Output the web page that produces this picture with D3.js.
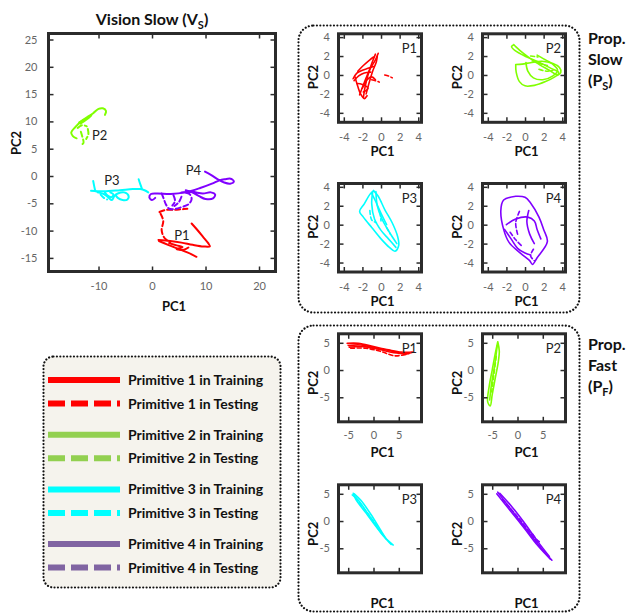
<!DOCTYPE html>
<html>
<head>
<meta charset="utf-8">
<script src="https://cdn.jsdelivr.net/npm/d3@7/dist/d3.min.js"></script>
<style>
html,body{margin:0;padding:0;background:#fff;}
svg{display:block;font-family:Lato,"Open Sans",sans-serif;}
</style>
</head>
<body>
<svg id="fig" width="628" height="613"></svg>
<script>
// ---------------- tick values ----------------
const mainXTicks = [-10, 0, 10, 20];
const mainYTicks = [-15, -10, -5, 0, 5, 10, 15, 20, 25];
const slowTicks = [-4, -2, 0, 2, 4];
const fastTicks = [-5, 0, 5];

// ---------------- categories ----------------
const primitives = ["P1", "P2", "P3", "P4"];
const lineColors = ["#ff0000", "#80ff00", "#00ffff", "#8000ff"];
const legendColors = ["#ff0000", "#92d050", "#00ffff", "#8064a2"];
const legendLabels = [
  "Primitive 1 in Training", "Primitive 1 in Testing",
  "Primitive 2 in Training", "Primitive 2 in Testing",
  "Primitive 3 in Training", "Primitive 3 in Testing",
  "Primitive 4 in Training", "Primitive 4 in Testing"
];

// ---------------- Vision Slow (PC1, PC2) ----------------
const vsP1Train = [
  [[7.4,-8.7],[8.4,-9.8],[9.5,-11.1],[10.5,-12.3],[10.8,-12.9],[9.6,-12.9],[7.6,-12.6],[5.5,-12.2],[3.4,-11.9],[1.2,-11.7]],
  [[1.3,-11.9],[3.0,-12.6],[4.8,-13.3],[6.6,-14.0],[8.3,-14.8]],
  [[3.2,-12.3],[4.6,-12.7],[5.7,-13.0],[4.6,-13.4],[6.0,-13.5],[6.8,-13.1]]
];
const vsP1Test = [
  [[1.4,-6.6],[2.6,-6.2],[4.0,-6.2],[5.4,-6.1],[6.6,-6.0]],
  [[1.6,-6.9],[2.1,-8.2],[1.8,-9.9],[2.3,-11.3],[3.4,-12.2]]
];
const vsP2Train = [
  [[-8.8,11.2],[-8.6,11.9],[-9.2,12.4],[-10.0,12.3],[-11.0,11.5],[-12.1,10.8],[-13.3,10.0],[-14.3,9.0],[-15.1,8.0],[-14.8,7.3],[-14.1,6.9]],
  [[-13.6,9.8],[-12.5,10.4],[-11.3,11.1],[-12.3,10.3],[-13.4,9.6]]
];
const vsP2Test = [
  [[-13.9,8.8],[-13.1,9.3],[-12.2,9.1]],
  [[-13.3,8.1],[-13.0,7.1],[-12.8,6.1],[-13.3,5.6]],
  [[-12.0,8.6],[-11.9,7.6],[-12.3,6.8]]
];
const vsP3Train = [
  [[-11.0,-0.9],[-10.8,-1.9],[-10.6,-2.8]],
  [[-11.4,-2.7],[-9.0,-2.8],[-6.0,-2.6],[-3.6,-2.4],[-2.2,-2.4],[-1.4,-2.6],[-0.7,-3.0]],
  [[-2.5,-0.6],[-2.2,-1.5],[-1.9,-2.3]],
  [[-10.2,-3.0],[-9.0,-3.3],[-8.2,-3.9],[-7.5,-4.4],[-7.0,-3.6],[-6.4,-3.2],[-5.2,-3.0],[-4.4,-3.6],[-4.6,-4.3],[-5.5,-4.4],[-6.4,-4.0],[-6.8,-3.5]],
  [[-8.8,-3.0],[-8.3,-3.6],[-7.6,-3.9],[-7.2,-3.4],[-7.8,-3.0]]
];
const vsP3Test = [
  [[-9.6,-3.4],[-9.0,-4.0],[-8.4,-4.3]]
];
const vsP4Train = [
  [[9.9,0.8],[11.0,0.2],[12.3,-0.6],[13.5,-1.2],[14.6,-1.4],[15.3,-1.0],[14.7,-0.5],[13.6,-0.6],[12.6,-0.8],[11.2,-1.4],[9.0,-2.2],[6.2,-3.0],[3.5,-3.3],[1.0,-3.2],[-0.2,-3.3],[-0.5,-3.9],[0.0,-4.4],[0.6,-4.0]],
  [[5.5,-3.0],[7.5,-2.9],[9.5,-3.2],[11.0,-3.0],[11.8,-3.4],[11.4,-4.1],[10.0,-4.2],[8.8,-3.7],[7.5,-3.0],[6.3,-2.6]]
];
const vsP4Test = [
  [[1.8,-3.2],[2.2,-4.2],[2.6,-5.2],[3.2,-6.0],[4.5,-6.0],[5.5,-5.7],[6.8,-5.2],[7.4,-4.2],[7.0,-3.3],[5.8,-3.0]],
  [[4.0,-3.5],[4.3,-4.6],[3.8,-5.4]],
  [[5.5,-3.8],[5.0,-4.8],[4.2,-5.5]]
];
const vsLabelPos = [[5.6,-10.9],[-9.8,7.5],[-7.5,-0.7],[7.75,1.1]];

// ---------------- Prop. Slow ----------------
const spP1Train = [
  [[-1.9,-2.4],[-1.7,-1.2],[-1.4,0.0],[-1.0,1.2],[-0.6,2.2]],
  [[-2.3,-2.1],[-1.8,-0.8],[-1.2,0.6],[-0.6,1.6],[-0.3,2.3]],
  [[-3.0,-0.4],[-2.6,0.2],[-2.0,0.5],[-1.4,0.7],[-0.8,0.9]],
  [[-2.8,-0.2],[-2.5,-1.2],[-2.2,-2.0],[-1.8,-2.5],[-1.5,-2.2]],
  [[-2.5,0.4],[-1.9,1.0],[-1.2,1.6],[-0.8,1.9]],
  [[-2.0,-1.4],[-1.5,-0.5],[-1.0,-0.2],[-0.6,-0.5]],
  [[-2.9,-0.6],[-2.4,-0.1],[-1.8,0.2],[-1.1,0.3]],
  [[-1.6,-2.0],[-1.3,-0.9],[-0.9,0.4],[-0.5,1.4],[-0.4,2.0]],
  [[-2.6,-0.9],[-2.0,-1.0],[-1.4,-1.4],[-1.9,-1.8]]
];
const spP1Test = [
  [[-1.0,-0.5],[-0.6,-0.6],[-0.2,-0.75]],
  [[0.4,0.0],[0.8,-0.1],[1.2,-0.3]]
];
const spP2Train = [
  [[-1.2,3.2],[-1.45,3.0],[-1.1,2.6],[0.2,1.9],[1.6,1.3],[2.8,0.7],[3.6,0.3],[3.5,0.0],[2.6,0.5],[1.2,1.3],[-0.2,2.3],[-1.0,3.0],[-1.2,3.2]],
  [[-1.0,1.1],[-0.95,0.3],[-0.6,-0.7],[0.0,-1.15],[1.0,-1.1],[2.2,-0.7],[3.2,-0.2],[3.85,0.3],[3.7,0.8],[3.0,1.2],[1.8,1.45],[0.6,1.3],[-0.3,1.15],[-1.0,1.1]],
  [[0.1,1.3],[0.3,0.4],[0.9,-0.3],[1.9,-0.5],[3.0,-0.1],[3.5,0.5],[2.9,1.2],[2.0,1.7],[1.3,2.1]]
];
const spP2Test = [
  [[0.8,1.5],[1.6,1.2],[2.4,1.0]],
  [[1.5,0.6],[2.3,0.4],[3.0,0.5]],
  [[0.6,2.0],[1.4,1.9]]
];
const spP3Train = [
  [[-0.8,3.6],[-1.2,3.2],[-1.8,2.2],[-2.3,1.4],[-1.9,0.8],[-1.0,-0.3],[0.0,-1.5],[0.9,-2.4],[1.5,-2.8],[1.9,-2.2],[1.8,-1.3],[1.2,0.2],[0.4,1.6],[-0.3,3.0],[-0.8,3.6]],
  [[-0.9,3.4],[-1.0,2.2],[-0.7,0.6],[0.0,-0.6],[0.8,-1.5],[1.6,-2.4]],
  [[-0.55,3.5],[-0.4,2.0],[0.1,0.6],[0.9,-0.8],[1.7,-2.0]],
  [[-1.0,3.3],[-0.6,2.5],[0.0,1.2],[0.6,0.0]]
];
const spP3Test = [
  [[-1.2,1.5],[-1.0,0.5],[-0.5,0.2]],
  [[-0.1,1.3],[0.0,0.4]],
  [[0.6,-0.3],[1.0,-1.0]]
];
const spP4Train = [
  [[-1.0,3.0],[-2.3,2.6],[-2.6,1.5],[-2.3,-0.5],[-1.7,-1.9],[-0.5,-3.0],[0.5,-3.8],[0.8,-4.2],[1.3,-3.5],[2.4,-1.8],[2.0,-0.5],[1.5,0.8],[0.6,2.3],[0.0,2.9],[-1.0,3.0]],
  [[-2.0,0.0],[-1.0,0.6],[0.3,0.8],[1.0,0.4],[1.3,-0.5],[1.7,-1.5]],
  [[-2.2,-0.5],[-1.5,-1.5],[-0.8,-2.5],[0.0,-3.0],[0.6,-3.2]],
  [[0.4,1.5],[0.2,0.3],[0.5,-1.0],[1.0,-2.0]]
];
const spP4Test = [
  [[-0.6,1.4],[-1.0,0.2],[-0.8,-1.0]],
  [[-1.6,-0.8],[-1.0,-1.6],[-0.4,-2.2]],
  [[0.9,-2.6],[0.6,-3.3],[1.0,-3.8]]
];

// ---------------- Prop. Fast ----------------
const fpP1Train = [
  [[-5.2,4.9],[-3.0,4.9],[0.0,4.3],[3.0,3.7],[5.5,3.3],[7.8,3.3]],
  [[-5.0,4.5],[-2.5,4.6],[0.5,4.0],[3.5,3.5],[6.5,3.0],[7.6,3.2]],
  [[-4.8,4.2],[-2.0,4.3],[1.0,3.8],[4.0,3.2],[7.0,3.0]]
];
const fpP1Test = [
  [[-4.5,4.0],[-1.5,4.0],[1.5,3.4],[4.2,2.6],[6.5,2.9]]
];
const fpP2Train = [
  [[-3.9,5.2],[-4.4,3.0],[-5.0,0.0],[-5.6,-3.0],[-5.9,-5.8],[-5.4,-6.6],[-5.0,-4.5],[-4.4,-1.5],[-3.8,1.5],[-3.6,3.5],[-3.9,5.2]],
  [[-4.0,4.5],[-4.5,1.0],[-5.2,-3.0],[-5.5,-5.5]]
];
const fpP2Test = [
  [[-4.2,2.5],[-4.7,-1.0],[-5.1,-4.0]]
];
const fpP3Train = [
  [[-4.0,5.1],[-3.5,4.0],[-1.5,1.5],[0.5,-1.0],[2.0,-2.8],[3.9,-4.4]],
  [[-4.2,4.8],[-3.0,3.8],[-1.0,1.2],[1.0,-1.5],[2.8,-3.6],[3.5,-4.3]],
  [[-3.8,5.0],[-2.5,3.8],[-0.5,1.2],[1.3,-1.5],[2.5,-3.3]]
];
const fpP3Test = [
  [[-3.6,4.4],[-1.8,2.2],[0.2,-0.3],[1.8,-2.4]]
];
const fpP4Train = [
  [[-3.9,5.3],[-2.0,3.0],[0.5,0.0],[3.0,-3.0],[5.0,-5.3],[6.8,-7.2]],
  [[-4.1,5.0],[-1.5,2.0],[1.5,-1.5],[4.0,-4.5],[6.5,-7.0]],
  [[-3.5,5.1],[-1.0,2.5],[1.5,-0.5],[3.8,-3.5],[6.3,-6.5]]
];
const fpP4Test = [
  [[-3.0,4.0],[0.0,0.8],[2.8,-2.5],[4.5,-4.8]],
  [[3.0,-2.4],[3.6,-3.2],[4.3,-3.8]]
];

// ================= drawing =================
const svg = d3.select("#fig");
const FRAME = "#2b2b2b";
const TICKC = "#666";

function drawPanel(cfg) {
  const g = svg.append("g");
  const x = d3.scaleLinear().domain(cfg.xd).range([cfg.x, cfg.x + cfg.w]);
  const y = d3.scaleLinear().domain(cfg.yd).range([cfg.y + cfg.h, cfg.y]);
  g.append("rect").attr("x", cfg.x).attr("y", cfg.y).attr("width", cfg.w).attr("height", cfg.h).attr("fill", "#fff");

  const line = d3.line().x(d => x(d[0])).y(d => y(d[1])).curve(d3.curveCatmullRom.alpha(0.5));
  cfg.traces.forEach(tr => {
    g.append("g").selectAll("path").data(tr.strokes).join("path")
      .attr("d", line).attr("fill", "none")
      .attr("stroke", tr.color).attr("stroke-width", cfg.lw)
      .attr("stroke-linecap", "round").attr("stroke-linejoin", "round")
      .attr("stroke-dasharray", tr.dashed ? cfg.dash : null);
  });

  // axes (ticks inward on all four sides)
  const fmt = d => String(d);
  const styleAx = a => {
    a.select(".domain").remove();
    a.selectAll("line").attr("stroke", FRAME).attr("stroke-width", 1.5);
    a.selectAll("text").attr("fill", TICKC).attr("font-size", 11).attr("font-family", "Lato");
  };
  const bx = g.append("g").attr("transform", `translate(0,${cfg.y + cfg.h})`)
    .call(d3.axisBottom(x).tickValues(cfg.xt).tickSize(-5).tickFormat(cfg.xLabels ? fmt : ""));
  styleAx(bx);
  bx.selectAll("text").attr("y", cfg.xLabOff).attr("dy", null);
  const tx = g.append("g").attr("transform", `translate(0,${cfg.y})`)
    .call(d3.axisTop(x).tickValues(cfg.xt).tickSize(-5).tickFormat(""));
  styleAx(tx);
  const ly = g.append("g").attr("transform", `translate(${cfg.x},0)`)
    .call(d3.axisLeft(y).tickValues(cfg.yt).tickSize(-5).tickPadding(cfg.yLabPad).tickFormat(fmt));
  styleAx(ly);
  const ry = g.append("g").attr("transform", `translate(${cfg.x + cfg.w},0)`)
    .call(d3.axisRight(y).tickValues(cfg.yt).tickSize(-5).tickFormat(""));
  styleAx(ry);

  g.append("rect").attr("x", cfg.x).attr("y", cfg.y).attr("width", cfg.w).attr("height", cfg.h)
    .attr("fill", "none").attr("stroke", FRAME).attr("stroke-width", 3);

  // axis titles
  g.append("text").attr("x", cfg.x + cfg.w / 2 + cfg.pc1dx).attr("y", cfg.y + cfg.h + cfg.pc1Off)
    .attr("text-anchor", "middle").attr("font-weight", 700).attr("font-size", 13).attr("fill", "#111").text("PC1");
  g.append("text").attr("transform", `translate(${cfg.x + cfg.pc2dx},${cfg.y + cfg.h / 2 + cfg.pc2dy}) rotate(-90)`)
    .attr("text-anchor", "middle").attr("font-weight", 700).attr("font-size", 13).attr("fill", "#111").text("PC2");
  return {g, x, y};
}

// ---------- main: Vision Slow ----------
const vsTrain = [vsP1Train, vsP2Train, vsP3Train, vsP4Train];
const vsTest = [vsP1Test, vsP2Test, vsP3Test, vsP4Test];
const mainTraces = [];
primitives.forEach((p, i) => {
  mainTraces.push({strokes: vsTest[i], color: lineColors[i], dashed: true});
  mainTraces.push({strokes: vsTrain[i], color: lineColors[i], dashed: false});
});
const main = drawPanel({
  x: 48.5, y: 33.5, w: 227, h: 238, xd: [-19.35, 23.08], yd: [-17.49, 26.1],
  xt: mainXTicks, yt: mainYTicks, xLabels: true, xLabOff: 18.5, yLabPad: 11,
  pc1Off: 39, pc1dx: 12, pc2dx: -28, pc2dy: -9.5, lw: 2, dash: "5,3",
  traces: mainTraces
});
main.g.selectAll(".plab").data(primitives).join("text")
  .attr("x", (d, i) => main.x(vsLabelPos[i][0])).attr("y", (d, i) => main.y(vsLabelPos[i][1]))
  .attr("dy", "0.36em").attr("text-anchor", "middle").attr("font-size", 13).attr("fill", "#222").text(d => d);

svg.append("text").attr("x", 152).attr("y", 25).attr("text-anchor", "middle")
  .attr("font-weight", 700).attr("font-size", 16).attr("fill", "#111")
  .call(t => { t.append("tspan").text("Vision Slow (V");
               t.append("tspan").attr("font-size", 11).attr("dy", 4).text("S");
               t.append("tspan").attr("dy", -4).text(")"); });

// ---------- small panels ----------
const cols = [338.5, 482.5];
const smallSets = [
  {name: "slow", rows: [33.8, 183.5], h: 88.5, xd: [-4.57, 4.35], yd: [-5.0, 4.35], ticks: slowTicks,
   train: [spP1Train, spP2Train, spP3Train, spP4Train], test: [spP1Test, spP2Test, spP3Test, spP4Test],
   xLabOff: 18.5, pc1Off: 33.5, pc2dy: -1, xLabelsRow: [true, true]},
  {name: "fast", rows: [333.8, 484.8], h: 88, xd: [-6.92, 9.49], yd: [-9.5, 6.65], ticks: fastTicks,
   train: [fpP1Train, fpP2Train, fpP3Train, fpP4Train], test: [fpP1Test, fpP2Test, fpP3Test, fpP4Test],
   xLabOff: 17.5, pc1Off: 35, pc2dy: 5, xLabelsRow: [true, false]}
];
smallSets.forEach(set => {
  primitives.forEach((p, i) => {
    const col = i % 2, row = Math.floor(i / 2);
    const cfg = {
      x: cols[col], y: set.rows[row], w: 83, h: set.h, xd: set.xd, yd: set.yd,
      xt: set.ticks, yt: set.ticks, xLabels: set.xLabelsRow[row], xLabOff: set.xLabOff, yLabPad: 8.5,
      pc1Off: set.pc1Off, pc1dx: 2.5, pc2dx: -20.5, pc2dy: set.pc2dy, lw: 1.6, dash: "4,2.5",
      traces: [
        {strokes: set.test[i], color: lineColors[i], dashed: true},
        {strokes: set.train[i], color: lineColors[i], dashed: false}
      ]
    };
    const pn = drawPanel(cfg);
    pn.g.append("text").attr("x", cfg.x + cfg.w - 4.5).attr("y", cfg.y + 19)
      .attr("text-anchor", "end").attr("font-size", 13).attr("fill", "#222").text(p);
  });
});

// ---------- dotted group boxes ----------
function dottedBox(x, y, w, h, r, fill) {
  svg.insert("rect", ":first-child").attr("x", x).attr("y", y).attr("width", w).attr("height", h)
    .attr("rx", r).attr("ry", r).attr("fill", fill || "none")
    .attr("stroke", "#111").attr("stroke-width", 2.2)
    .attr("stroke-dasharray", "0.01,3.4").attr("stroke-linecap", "round");
}
dottedBox(298.5, 25.5, 281, 287, 15);
dottedBox(298.5, 325.5, 281, 286, 15);

// right-hand group labels
function groupLabel(y0, sub, word) {
  const t = svg.append("g").attr("font-weight", 700).attr("font-size", 16).attr("fill", "#111");
  t.append("text").attr("x", 588).attr("y", y0).text("Prop.");
  t.append("text").attr("x", 588).attr("y", y0 + 21).text(word);
  t.append("text").attr("x", 588).attr("y", y0 + 42)
    .call(s => { s.append("tspan").text("(P");
                 s.append("tspan").attr("font-size", 11).attr("dy", 4).text(sub);
                 s.append("tspan").attr("dy", -4).text(")"); });
}
groupLabel(43.5, "S", "Slow");
groupLabel(349.5, "F", "Fast");

// ---------- legend ----------
const lg = svg.append("g");
lg.append("rect").attr("x", 43.5).attr("y", 356.5).attr("width", 237).attr("height", 231)
  .attr("rx", 10).attr("ry", 10).attr("fill", "#f5f3ed")
  .attr("stroke", "#111").attr("stroke-width", 2.2)
  .attr("stroke-dasharray", "0.01,3.4").attr("stroke-linecap", "round");
const ly = i => 380 + Math.floor(i / 2) * 54.7 + (i % 2) * 23.5;
lg.selectAll("line.lg").data(legendLabels).join("line")
  .attr("x1", 48).attr("x2", 120).attr("y1", (d, i) => ly(i)).attr("y2", (d, i) => ly(i))
  .attr("stroke", (d, i) => legendColors[Math.floor(i / 2)]).attr("stroke-width", 6)
  .attr("stroke-dasharray", (d, i) => i % 2 ? "17,6" : null);
lg.selectAll("text.lg").data(legendLabels).join("text")
  .attr("x", 128).attr("y", (d, i) => ly(i)).attr("dy", "0.36em")
  .attr("font-weight", 700).attr("font-size", 14).attr("fill", "#111").text(d => d);
</script>
</body>
</html>
